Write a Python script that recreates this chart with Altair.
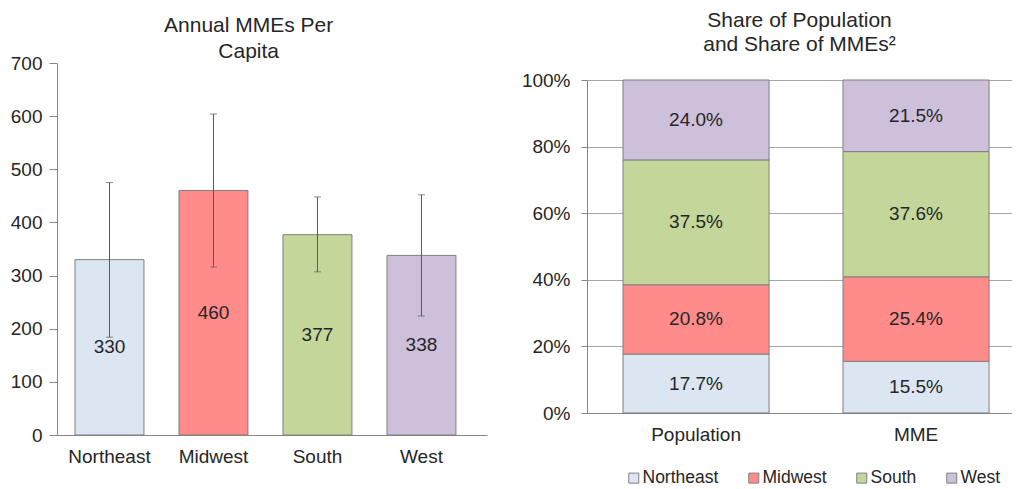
import altair as alt
import pandas as pd

# ---- data ----
regions = ["Northeast", "Midwest", "South", "West"]
mme_per_capita = [330, 460, 377, 338]
ci_low = [184, 316, 307, 224]
ci_high = [475, 604, 448, 452]

groups = ["Population", "MME"]
population_share = [0.177, 0.208, 0.375, 0.240]
mme_share = [0.155, 0.254, 0.376, 0.215]

colors = ["#dce6f2", "#ff8b8b", "#c4d79b", "#ccc0da"]
left_ticks = [0, 100, 200, 300, 400, 500, 600, 700]
right_ticks = [0, 0.2, 0.4, 0.6, 0.8, 1.0]

FONT = "Liberation Sans"
TEXT = "#262626"
AXIS = "#868686"
GRID = "#a6a6a6"
EDGE = "#7f7f7f"
ERR = "#595959"

left_df = pd.DataFrame({"region": regions, "mme": mme_per_capita,
                        "lo": ci_low, "hi": ci_high})

rows = []
for g, shares in zip(groups, [population_share, mme_share]):
    for i, (r, s) in enumerate(zip(regions, shares)):
        rows.append({"group": g, "region": r, "share": s, "idx": i})
right_df = pd.DataFrame(rows)

color_scale = alt.Scale(domain=regions, range=colors)

# ---- left chart ----
xs_l = alt.Scale(domain=regions, paddingInner=0.337, paddingOuter=0.236, align=0.367)
x_l = alt.X("region:N", sort=regions, scale=xs_l,
            axis=alt.Axis(title=None, labelAngle=0, ticks=False, labelPadding=12,
                          labelFontSize=19, labelFont=FONT, labelColor=TEXT,
                          domainColor=AXIS))
ys_l = alt.Scale(domain=[0, 700], nice=False)
ax_l = alt.Axis(title=None, values=left_ticks, grid=False, tickSize=8, labelPadding=7,
                labelFontSize=19, labelFont=FONT, labelColor=TEXT,
                domainColor=AXIS, tickColor=AXIS)

def yl(field):
    return alt.Y(field, scale=ys_l, axis=ax_l)

base_l = alt.Chart(left_df).encode(x=x_l)
bars_l = base_l.mark_bar(stroke=EDGE, strokeWidth=1).encode(
    y=yl("mme:Q"),
    color=alt.Color("region:N", scale=color_scale, legend=None))
err_l = base_l.mark_rule(color=ERR, strokeWidth=1).encode(y=yl("lo:Q"), y2="hi:Q")
cap_lo = base_l.mark_tick(color=ERR, size=7, thickness=1).encode(y=yl("lo:Q"))
cap_hi = base_l.mark_tick(color=ERR, size=7, thickness=1).encode(y=yl("hi:Q"))
txt_l = base_l.mark_text(font=FONT, fontSize=19, color=TEXT).transform_calculate(
    mid="datum.mme / 2").encode(y=yl("mid:Q"), text="mme:Q")

left = alt.layer(bars_l, err_l, cap_lo, cap_hi, txt_l).properties(
    width=430, height=372,
    title=alt.TitleParams(["Annual MMEs Per", "Capita"], fontSize=21, font=FONT,
                          color=TEXT, fontWeight="normal", lineHeight=26,
                          frame="bounds", anchor="middle", offset=-8))

# ---- right chart ----
xs_r = alt.Scale(domain=groups, paddingInner=0.336, paddingOuter=0.134, align=0.611)
x_r = alt.X("group:N", sort=groups, scale=xs_r,
            axis=alt.Axis(title=None, labelAngle=0, ticks=False, labelPadding=12,
                          labelFontSize=19, labelFont=FONT, labelColor=TEXT,
                          domainColor=AXIS))
ys_r = alt.Scale(domain=[0, 1], nice=False, range=[350, 17])
ax_r = alt.Axis(title=None, values=right_ticks, format=".0%", grid=True, gridColor=GRID,
                tickSize=6, labelPadding=11, labelFontSize=19, labelFont=FONT,
                labelColor=TEXT, domainColor=AXIS, tickColor=AXIS)

base_r = alt.Chart(right_df).transform_stack(
    stack="share", groupby=["group"], as_=["y0", "y1"],
    sort=[alt.SortField("idx", order="ascending")]
).transform_calculate(mid="(datum.y0 + datum.y1) / 2").encode(x=x_r)

bars_r = base_r.mark_bar(stroke=EDGE, strokeWidth=1).encode(
    y=alt.Y("y0:Q", scale=ys_r, axis=ax_r), y2="y1:Q",
    color=alt.Color("region:N", scale=color_scale,
                    legend=alt.Legend(title=None, orient="none", legendX=38, legendY=406,
                                      direction="horizontal", columns=4,
                                      symbolType="square", symbolSize=100,
                                      symbolStrokeColor=EDGE, symbolStrokeWidth=1,
                                      symbolOpacity=1, labelFontSize=17.5,
                                      labelFont=FONT, labelColor=TEXT,
                                      columnPadding=26, labelOffset=0)))
txt_r = base_r.mark_text(font=FONT, fontSize=19, color=TEXT).encode(
    y=alt.Y("mid:Q", scale=ys_r, axis=ax_r),
    text=alt.Text("share:Q", format=".1%"))

right = alt.layer(bars_r, txt_r).properties(
    width=425, height=350,
    title=alt.TitleParams(["Share of Population", "and Share of MMEs\u00b2"], fontSize=21,
                          font=FONT, color=TEXT, fontWeight="normal", lineHeight=24,
                          frame="group", anchor="middle", offset=8))

chart = alt.hconcat(left, right, spacing=100, bounds="flush").resolve_scale(
    color="independent").resolve_legend(color="independent").properties(
    padding={"left": 2, "top": 2, "right": 0, "bottom": 0}
).configure_view(stroke=None)

chart.save("out.html", embed_options={"renderer": "svg", "actions": False})
